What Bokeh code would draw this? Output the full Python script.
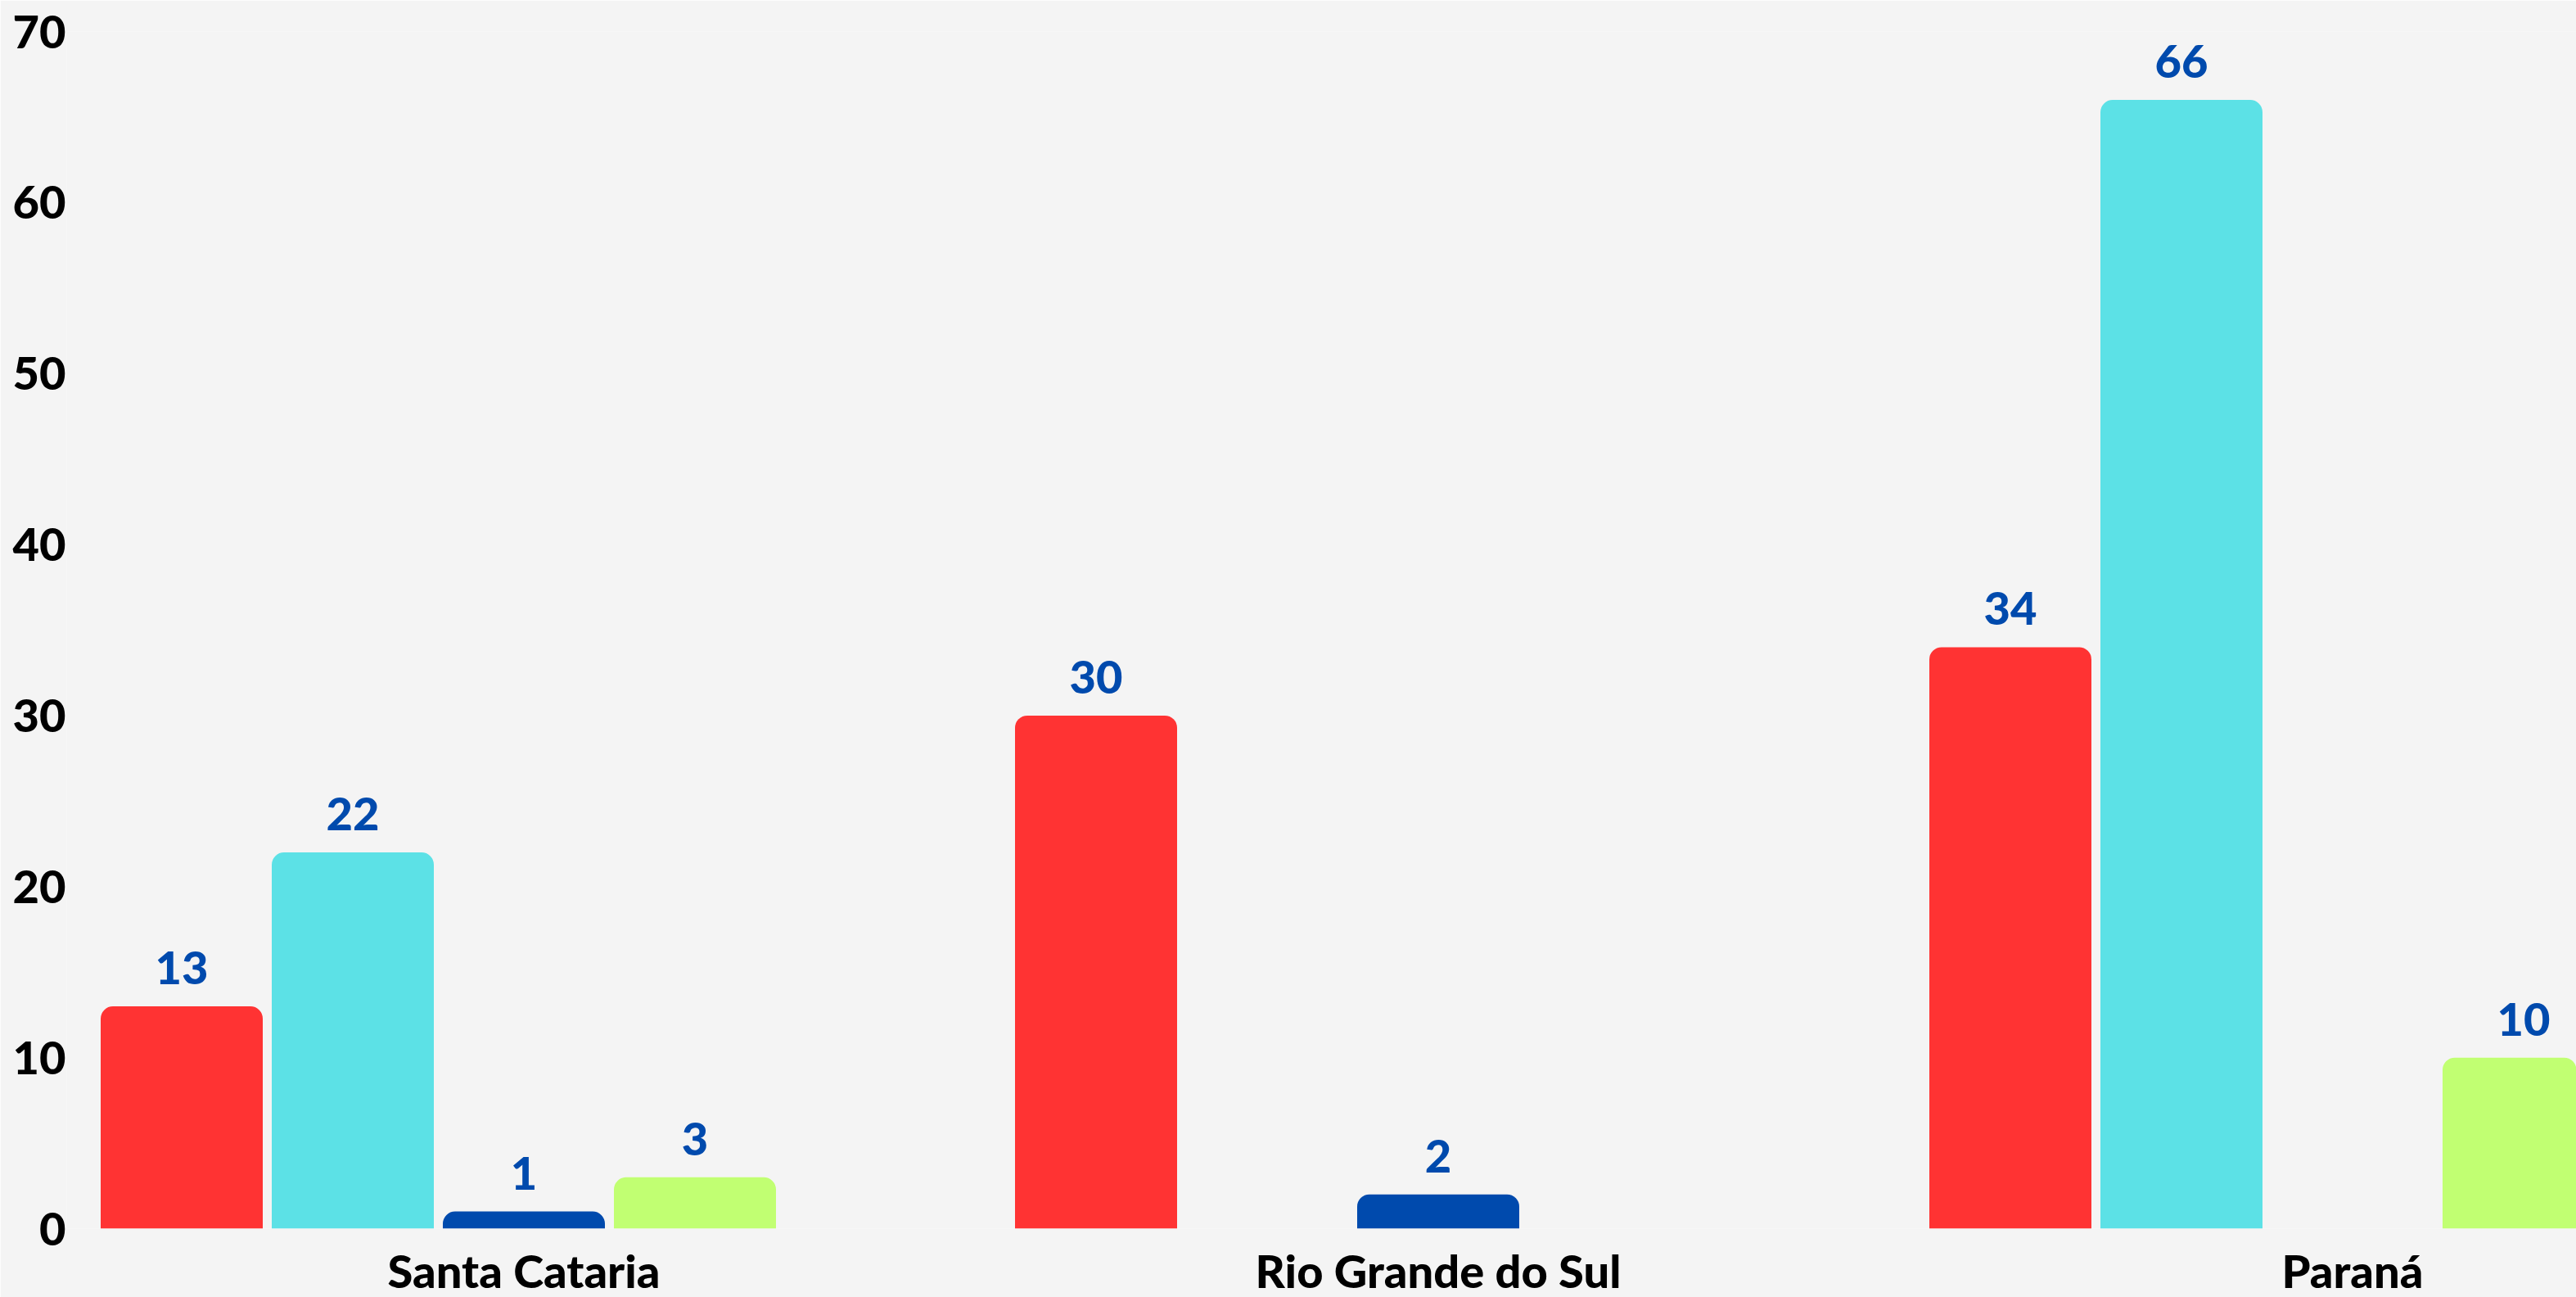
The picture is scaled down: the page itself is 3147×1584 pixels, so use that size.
from bokeh.plotting import figure
from bokeh.models import Range1d, FixedTicker, ColumnDataSource
from bokeh.core.properties import value
from bokeh.transform import dodge
from bokeh.embed import file_html
from bokeh.resources import INLINE

# ---- data ----
states = ["Santa Cataria", "Rio Grande do Sul", "Paraná"]
series_colors = ["#FF3333", "#5CE1E6", "#004AAD", "#C1FF72", "#FFDE59"]
serie_1 = [13, 30, 34]
serie_2 = [22, 0, 66]
serie_3 = [1, 2, 0]
serie_4 = [3, 0, 10]
serie_5 = [0, 0, 0]
y_ticks = [0, 10, 20, 30, 40, 50, 60, 70]

all_series = [serie_1, serie_2, serie_3, serie_4, serie_5]
group_pos = [i + 0.5 for i in range(len(states))]

FONT = "Lato Black"
BG = "#F4F4F4"
LABEL_BLUE = "#004AAD"

GROUP_PX = 1117
FRAME_W = 3066
p = figure(frame_width=FRAME_W, frame_height=1462, output_backend="svg", toolbar_location=None,
           x_range=Range1d(0, FRAME_W / GROUP_PX), y_range=Range1d(0, 70),
           min_border_left=81, min_border_right=0, min_border_top=38,
           min_border_bottom=84)
p.background_fill_color = BG
p.border_fill_color = BG
p.outline_line_color = None
p.grid.visible = False

slot = 209 / GROUP_PX
bar_w = 198 / GROUP_PX

for k, (vals, col) in enumerate(zip(all_series, series_colors)):
    xs = [g for g, v in zip(group_pos, vals) if v > 0]
    ys = [v for v in vals if v > 0]
    if not xs:
        continue
    src = ColumnDataSource(dict(x=xs, top=ys, lbl=[str(v) for v in ys]))
    off = (k - 2) * slot
    p.vbar(x=dodge("x", off, range=p.x_range), top="top", bottom=0, width=bar_w,
           source=src, fill_color=col, line_color=None,
           border_radius=(15, 15, 0, 0))
    p.text(x=dodge("x", off, range=p.x_range), y="top", text="lbl", source=src,
           text_align="center", text_baseline="alphabetic", y_offset=-47,
           text_font=value(FONT), text_font_style="normal", text_font_size="56px",
           text_color=LABEL_BLUE)

# axes
p.xaxis.ticker = FixedTicker(ticks=group_pos)
p.xaxis.major_label_overrides = {g: s for g, s in zip(group_pos, states)}
p.yaxis.ticker = FixedTicker(ticks=y_ticks)
for ax in (p.xaxis[0], p.yaxis[0]):
    ax.axis_line_color = None
    ax.major_tick_line_color = None
    ax.minor_tick_line_color = None
    ax.major_tick_out = 0
    ax.major_tick_in = 0
    ax.minor_tick_out = 0
    ax.minor_tick_in = 0
    ax.major_label_text_font = FONT
    ax.major_label_text_font_style = "normal"
    ax.major_label_text_font_size = "56px"
    ax.major_label_text_color = "#000000"
p.xaxis.major_label_standoff = 17
p.yaxis.major_label_standoff = 1

open("out.html", "w").write(file_html(p, INLINE))
